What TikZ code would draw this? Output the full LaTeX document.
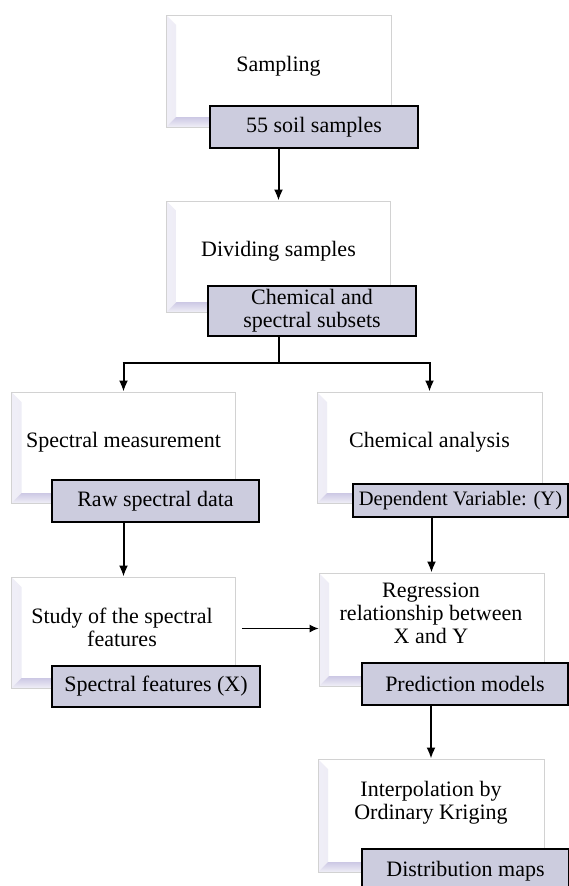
\documentclass[tikz,border=0pt]{standalone}
\usepackage{fontspec}
\setmainfont{Liberation Serif}
\usetikzlibrary{arrows.meta}
\definecolor{boxfill}{RGB}{204,204,222}
\definecolor{bevel}{RGB}{204,200,228}

\begin{document}
\begin{tikzpicture}[x=1pt,y=-1pt,
  font=\fontsize{22}{23}\selectfont,
  stepframe/.style={draw=gray!35, line width=0.8pt, fill=white, inner sep=0pt,
    minimum width=224pt, minimum height=111pt,
    path picture={
      \shade[left color=bevel!30, right color=bevel]
        (path picture bounding box.north west) -- ([shift={(10pt,-10pt)}]path picture bounding box.north west)
        -- ([shift={(10pt,10pt)}]path picture bounding box.south west) -- (path picture bounding box.south west) -- cycle;
      \shade[top color=bevel, bottom color=bevel!30]
        (path picture bounding box.south west) -- ([shift={(10pt,10pt)}]path picture bounding box.south west)
        -- ([shift={(-10pt,10pt)}]path picture bounding box.south east) -- (path picture bounding box.south east) -- cycle;
    }},
  steptext/.style={inner sep=0pt, align=center},
  result/.style={draw=black, line width=2.2pt, fill=boxfill, inner sep=0pt, align=center,
    minimum width=207pt, minimum height=42pt},
  link/.style={line width=2pt},
  conn/.style={link, -{Latex[length=11pt,width=9pt]}},
  thinconn/.style={line width=1.2pt, -{Latex[length=9pt,width=8pt]}}]
\useasboundingbox (0,0) rectangle (569,886);

% steps
\node [stepframe, minimum width=225pt, minimum height=112pt] (sampling) at (278.5,71) {};
\node [stepframe] (dividing) at (278.5,256.5) {};
\node [stepframe] (spectral) at (123.5,447.5) {};
\node [stepframe, minimum width=225pt] (chemical) at (429.5,447.5) {};
\node [stepframe] (study) at (123.5,632.5) {};
\node [stepframe, minimum width=225pt, minimum height=113pt] (regression) at (431.5,629.5) {};
\node [stepframe, minimum width=226pt, minimum height=113pt] (interpolation) at (431,815.5) {};

\node [steptext] (samplingtxt) at (278.5,66) {Sampling};
\node [steptext] (dividingtxt) at (278.5,251) {Dividing samples};
\node [steptext] (spectraltxt) at (123.5,442) {Spectral measurement};
\node [steptext] (chemicaltxt) at (429.5,442) {Chemical analysis};
\node [steptext] (studytxt) at (122,627) {Study of the spectral\\features};
\node [steptext] (regressiontxt) at (431,613.5) {Regression\\relationship between\\X and Y};
\node [steptext] (interpolationtxt) at (431,803) {Interpolation by\\Ordinary Kriging};

% results
\node [result, minimum width=208pt] (samples) at (314,127) {55 soil samples};
\node [result, minimum width=208pt, minimum height=50pt] (subsets) at (312,311) {Chemical and\\spectral subsets};
\node [result] (raw) at (155.5,501) {Raw spectral data};
\node [result, minimum width=215pt, minimum height=33pt, font=\fontsize{20.5}{22}\selectfont] (dependent) at (460.5,500.5) {Dependent Variable: (Y)};
\node [result, minimum width=208pt, minimum height=41pt] (features) at (156,686.5) {Spectral features (X)};
\node [result, minimum width=206pt] (prediction) at (465,684) {Prediction models};
\node [result, minimum height=44pt] (distmaps) at (465.5,871) {Distribution maps};

% arrows
\coordinate (split) at (278.5,363);
\draw [conn] (samples.south -| sampling.center) -- (dividing.north);
\draw [link] (subsets.south -| split) -- (split);
\draw [link] ([xshift=-1pt]spectral.north |- split) -- ([xshift=1pt]chemical.north |- split);
\draw [conn] (spectral.north |- split) -- (spectral.north);
\draw [conn] (chemical.north |- split) -- (chemical.north);
\draw [conn] (raw.south -| study.north) -- (study.north);
\draw [conn] (dependent.south -| regression.north) -- (regression.north);
\draw [thinconn] ([shift={(6pt,4pt)}]study.east) -- ([yshift=4pt]study.east -| regression.west);
\draw [conn] (prediction.south -| interpolation.north) -- (interpolation.north);
\end{tikzpicture}
\end{document}
